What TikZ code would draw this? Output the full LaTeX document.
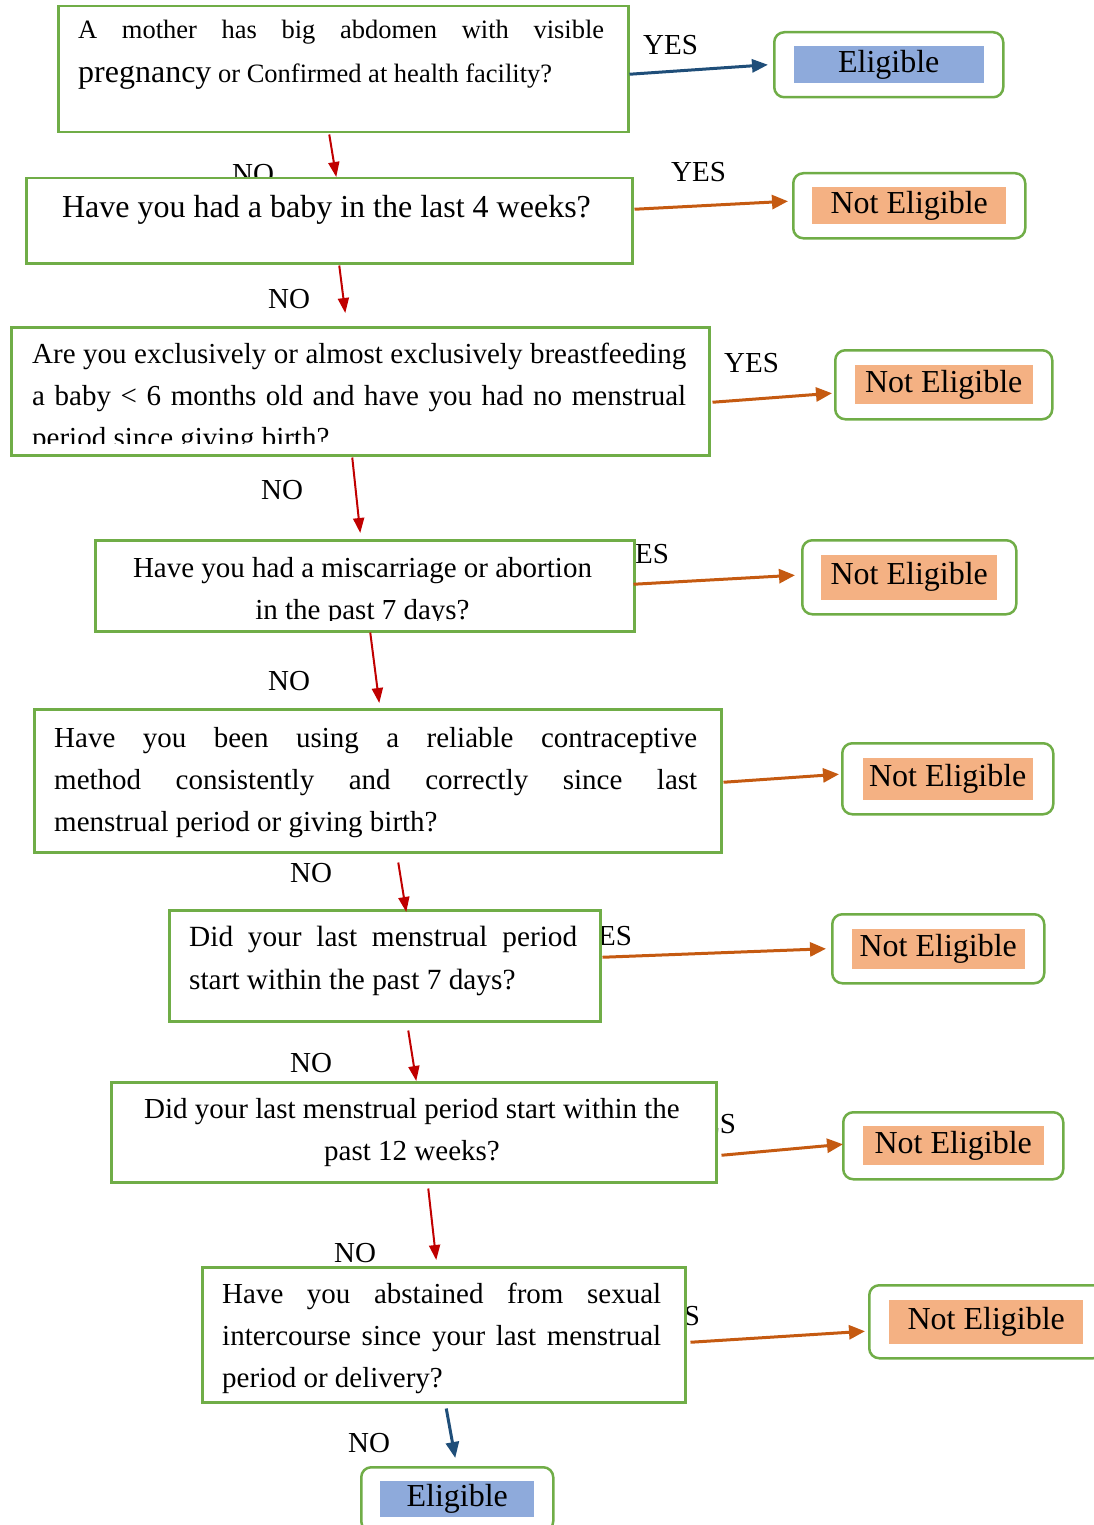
\documentclass[tikz,border=0pt]{standalone}
\usepackage{fontspec}
\setmainfont{Liberation Serif}
\usetikzlibrary{arrows.meta,positioning}
\tolerance=9999
\hbadness=10000
\definecolor{boxgreen}{HTML}{70AD47}
\definecolor{eligblue}{HTML}{8EAADB}
\definecolor{notorange}{HTML}{F4B183}
\definecolor{noarrow}{HTML}{C00000}
\definecolor{yesarrow}{HTML}{C55A11}
\definecolor{endarrow}{HTML}{1F4E79}
\pgfdeclarelayer{labels}
\pgfsetlayers{labels,main}
\tikzstyle{qbox} = [draw=boxgreen,line width=2.5pt,fill=white,inner sep=0pt,anchor=north west]
\tikzstyle{rbox} = [qbox,rounded corners=10pt]
\tikzstyle{qtext} = [inner sep=0pt,font=\fontsize{29}{42}\selectfont]
\tikzstyle{tag} = [inner sep=0pt,anchor=base west,font=\fontsize{29}{35}\selectfont]
\tikzstyle{notfill} = [fill=notorange,inner sep=0pt,font=\fontsize{32}{38}\selectfont]
\tikzstyle{yesfill} = [fill=eligblue,inner sep=0pt,font=\fontsize{32}{38}\selectfont]
\tikzstyle{noarr} = [color=noarrow,line width=2pt,-{Triangle[length=15pt,width=11pt]}]
\tikzstyle{yesarr} = [color=yesarrow,line width=3pt,->]
\tikzstyle{endarr} = [color=endarrow,line width=3pt,-{Triangle[length=16pt,width=13pt]}]
\tikzset{>={Triangle[length=16pt,width=14pt]}}

\begin{document}
\begin{tikzpicture}[x=1pt,y=-1pt]
    \useasboundingbox (0,0) rectangle (1094,1525);
    \clip (0,0) rectangle (1094,1525);

    \begin{pgfonlayer}{labels}
    \node [tag] (y1) at (643,55) {YES};
    \node [tag] (n1) at (232,183) {NO};
    \node [tag] (y2) at (671,182) {YES};
    \node [tag] (n2) at (268,308) {NO};
    \node [tag] (y3) at (724,372) {YES};
    \node [tag] (n3) at (261,499) {NO};
    \node [tag] (y4) at (614,563) {YES};
    \node [tag] (n4) at (268,690) {NO};
    \node [tag] (n5) at (290,882) {NO};
    \node [tag] (y6) at (577,945) {YES};
    \node [tag] (n6) at (290,1072) {NO};
    \node [tag] (y7) at (681,1133) {YES};
    \node [tag] (n7) at (334,1262) {NO};
    \node [tag] (y8) at (645,1325) {YES};
    \node [tag] (n8) at (348,1452) {NO};
    \end{pgfonlayer}

    \node [qbox,minimum width=570pt,minimum height=126pt] (q1) at (57,5) {};
    \node [qbox,minimum width=606pt,minimum height=85pt] (q2) at (25,177) {};
    \node [qbox,minimum width=698pt,minimum height=128pt] (q3) at (10,326) {};
    \node [qbox,minimum width=539pt,minimum height=91pt] (q4) at (94,539) {};
    \node [qbox,minimum width=687pt,minimum height=143pt] (q5) at (33,708) {};
    \node [qbox,minimum width=431pt,minimum height=111pt] (q6) at (168,909) {};
    \node [qbox,minimum width=605pt,minimum height=100pt] (q7) at (110,1081) {};
    \node [qbox,minimum width=483pt,minimum height=135pt] (q8) at (201,1266) {};

    \node [qtext,anchor=base west,text width=526pt,align=justify,font=\fontsize{26.5}{44}\selectfont] (t1) at (78,39)
        {A mother has big abdomen with visible\linebreak {\fontsize{32}{44}\selectfont pregnancy} or Confirmed at health facility?};
    \node [qtext,anchor=base,font=\fontsize{32}{42}\selectfont] (t2) at (326.5,217) {Have you had a baby in the last 4 weeks?};
    \begin{scope}
        \clip (10,326) rectangle (708,443);
        \node [qtext,anchor=base west,text width=654pt,align=justify] (t3) at (32,363)
            {Are you exclusively or almost exclusively breastfeeding\linebreak a baby < 6 months old and have you had no menstrual\linebreak period since giving birth?};
    \end{scope}
    \begin{scope}
        \clip (94,539) rectangle (633,620);
        \node [qtext,anchor=base,text width=500pt,align=flush center] (t4) at (362.5,577)
            {Have you had a miscarriage or abortion\\ in the past 7 days?};
    \end{scope}
    \node [qtext,anchor=base west,text width=643pt,align=justify] (t5) at (54,747)
        {Have you been using a reliable contraceptive\linebreak method consistently and correctly since last\linebreak menstrual period or giving birth?};
    \node [qtext,anchor=base west,text width=388pt,align=justify,font=\fontsize{29.3}{43}\selectfont] (t6) at (189,946)
        {Did your last menstrual period\linebreak start within the past 7 days?};
    \node [qtext,anchor=base,text width=560pt,align=flush center] (t7) at (412,1118)
        {Did your last menstrual period start within the\\ past 12 weeks?};
    \node [qtext,anchor=base west,text width=439pt,align=justify] (t8) at (222,1303)
        {Have you abstained from sexual\linebreak intercourse since your last menstrual\linebreak period or delivery?};

    \node [rbox,minimum width=229pt,minimum height=65pt] (e1) at (773,31) {};
    \node [yesfill,minimum width=190pt,minimum height=37pt] (e1t) at (e1.center) {Eligible};
    \node [rbox,minimum width=232pt,minimum height=65pt] (ne2) at (792,172) {};
    \node [notfill,minimum width=194pt,minimum height=37pt] (ne2t) at (ne2.center) {Not Eligible};
    \node [rbox,minimum width=217pt,minimum height=69pt] (ne3) at (834,349) {};
    \node [notfill,minimum width=178pt,minimum height=39pt] (ne3t) at (ne3.center) {Not Eligible};
    \node [rbox,minimum width=214pt,minimum height=74pt] (ne4) at (801,539) {};
    \node [notfill,minimum width=176pt,minimum height=45pt] (ne4t) at (ne4.center) {Not Eligible};
    \node [rbox,minimum width=211pt,minimum height=71pt] (ne5) at (841,742) {};
    \node [notfill,minimum width=170pt,minimum height=42pt] (ne5t) at (ne5.center) {Not Eligible};
    \node [rbox,minimum width=212pt,minimum height=69pt] (ne6) at (831,913) {};
    \node [notfill,minimum width=173pt,minimum height=40pt] (ne6t) at (ne6.center) {Not Eligible};
    \node [rbox,minimum width=220pt,minimum height=67pt] (ne7) at (842,1111) {};
    \node [notfill,minimum width=181pt,minimum height=39pt] (ne7t) at (ne7.center) {Not Eligible};
    \node [rbox,minimum width=234pt,minimum height=73pt] (ne8) at (868,1284) {};
    \node [notfill,minimum width=194pt,minimum height=44pt] (ne8t) at (ne8.center) {Not Eligible};
    \node [rbox,minimum width=192pt,minimum height=64pt] (e8) at (360,1466) {};
    \node [yesfill,minimum width=154pt,minimum height=36pt] (e8t) at (e8.center) {Eligible};

    \draw [endarr] ([yshift=-5pt]q1.east) -- ([xshift=-5pt]e1.west);
    \draw [noarr] ([xshift=-14pt,yshift=-1pt]q1.south) -- ([xshift=7pt]q2.north);
    \draw [yesarr] ([xshift=1pt,yshift=11.5pt]q2.east) -- ([xshift=-4pt,yshift=4.5pt]ne2.west);
    \draw [noarr] ([xshift=10pt,yshift=-1pt]q2.south) -- ([xshift=-15pt,yshift=13pt]q3.north);
    \draw [yesarr] ([xshift=2pt,yshift=-11pt]q3.east) -- ([xshift=-2pt,yshift=-8.5pt]ne3.west);
    \draw [noarr] ([xshift=-8pt,yshift=-1pt]q3.south) -- ([xshift=-4.5pt,yshift=6pt]q4.north);
    \draw [yesarr] ([xshift=-2pt,yshift=1.5pt]q4.east) -- ([xshift=-6pt,yshift=2pt]ne4.west);
    \draw [noarr] ([xshift=5.5pt]q4.south) -- ([xshift=1.5pt,yshift=5pt]q5.north);
    \draw [yesarr] ([xshift=1pt,yshift=-1.5pt]q5.east) -- ([xshift=-2pt,yshift=4.5pt]ne5.west);
    \draw [noarr] ([xshift=20.5pt,yshift=-9pt]q5.south) -- ([xshift=21.5pt,yshift=-3pt]q6.north);
    \draw [yesarr] ([xshift=1pt,yshift=8.5pt]q6.east) -- ([xshift=-5pt]ne6.west);
    \draw [noarr] ([xshift=23.5pt,yshift=-8pt]q6.south) -- ([xshift=2.5pt]q7.north);
    \draw [yesarr] ([xshift=4pt,yshift=-23pt]q7.east) -- ([xshift=1pt,yshift=1.5pt]ne7.west);
    \draw [noarr] ([xshift=14.5pt,yshift=-5pt]q7.south) -- ([xshift=-7.5pt,yshift=6pt]q8.north);
    \draw [yesarr] ([xshift=4pt,yshift=-7.5pt]q8.east) -- ([xshift=-3pt,yshift=-9.5pt]ne8.west);
    \draw [endarr] ([xshift=2.5pt,yshift=-5pt]q8.south) -- ([xshift=-2pt,yshift=8pt]e8.north);
\end{tikzpicture}
\end{document}
